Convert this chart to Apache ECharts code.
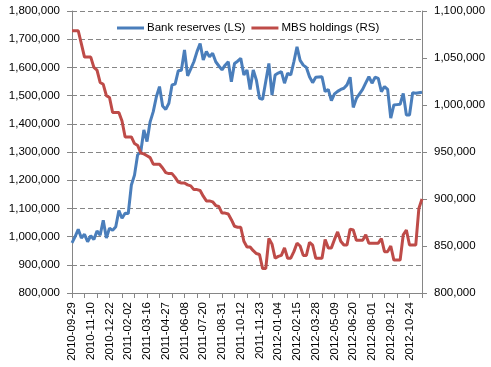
<!DOCTYPE html>
<html><head><meta charset="utf-8">
<script src="https://cdn.jsdelivr.net/npm/echarts@6/dist/echarts.min.js"></script>
<style>html,body{margin:0;padding:0;background:#fff}#c{width:491px;height:367px}</style>
</head><body><div id="c"></div>
<script>
// Weekly dates starting 2010-09-29 (113 weeks)
const startDate = '2010-09-29';
const weekCount = 113;
const categories = [];
(function(){const d=new Date(startDate+'T00:00:00Z');for(let i=0;i<weekCount;i++){const x=new Date(d.getTime()+i*7*86400000);categories.push(x.toISOString().slice(0,10));}})();

const seriesNames = ['Bank reserves (LS)', 'MBS holdings (RS)'];
// values in thousands of dollars (millions units as shown)
const bankReserves = [978,1000,1026,995,1008,982,1003,990,1020,1005,1058,995,1030,1022,1035,1092,1065,1083,1082,1183,1218,1290,1300,1378,1337,1407,1443,1496,1532,1463,1451,1473,1538,1541,1588,1590,1662,1570,1595,1620,1656,1685,1626,1656,1638,1650,1620,1605,1591,1608,1620,1549,1614,1622,1632,1573,1591,1522,1591,1555,1490,1487,1550,1614,1502,1573,1580,1585,1544,1579,1573,1620,1673,1625,1608,1600,1567,1546,1565,1566,1567,1514,1522,1482,1506,1515,1522,1526,1538,1565,1458,1490,1506,1522,1545,1567,1544,1565,1561,1514,1532,1522,1420,1467,1468,1469,1508,1431,1431,1510,1508,1510,1512];
const mbsHoldings = [1079,1079,1079,1065,1051,1051,1051,1040,1037,1024,1022,1010,1008,992,992,992,983,966,966,966,959,957,949,948,946,944,937,937,937,933,928,927,927,923,918,917,917,915,914,910,910,909,903,898,898,897,893,892,885,885,884,878,871,870,870,855,849,849,845,842,841,826,826,858,852,837,839,840,848,837,837,844,853,850,840,840,854,851,837,837,837,857,848,848,857,865,855,851,851,868,867,856,856,856,862,853,853,853,853,858,844,844,850,835,835,835,862,867,851,851,851,890,900];

const leftTicks = {min:800000, max:1800000, step:100000};
const rightTicks = {min:800000, max:1100000, step:50000};

const fmt = v => v.toLocaleString('en-US');
const font = 'Liberation Sans';
const axisGray = '#868686';

const chart = echarts.init(document.getElementById('c'), null, {renderer:'canvas'});
chart.setOption({
  animation:false,
  backgroundColor:'#fff',
  textStyle:{fontFamily:font},
  grid:{left:72, right:69, top:11, bottom:74},
  legend:{
    data:seriesNames, left:112, top:17, itemWidth:27, itemHeight:3, itemGap:6, icon:'rect',
    textStyle:{fontFamily:font, fontSize:11.5, color:'#000', padding:[0,0,0,-2]}
  },
  xAxis:{
    type:'category', data:categories, boundaryGap:false,
    axisLine:{lineStyle:{color:axisGray, width:1}},
    axisTick:{interval:3, length:5, lineStyle:{color:axisGray}},
    axisLabel:{interval:5, rotate:90, margin:9, color:'#000', fontSize:11.5, fontFamily:font},
    splitLine:{show:false}
  },
  yAxis:[{
    type:'value', min:leftTicks.min, max:leftTicks.max, interval:leftTicks.step, position:'left',
    axisLine:{show:true, lineStyle:{color:axisGray}},
    axisTick:{show:true, length:5, lineStyle:{color:axisGray}},
    axisLabel:{formatter:fmt, margin:12, color:'#000', fontSize:11.5, fontFamily:font},
    splitLine:{show:true, lineStyle:{color:axisGray, type:[5,3], width:1}}
  },{
    type:'value', min:rightTicks.min, max:rightTicks.max, interval:rightTicks.step, position:'right',
    axisLine:{show:true, lineStyle:{color:axisGray}},
    axisTick:{show:true, length:5, lineStyle:{color:axisGray}},
    axisLabel:{formatter:fmt, margin:12, color:'#000', fontSize:11.5, fontFamily:font},
    splitLine:{show:false}
  }],
  series:[{
    name:seriesNames[0], type:'line', yAxisIndex:0, data:bankReserves.map(v=>v*1000),
    showSymbol:false, symbol:'none', lineStyle:{width:3, color:'#4A7EBB'}, itemStyle:{color:'#4A7EBB'}
  },{
    name:seriesNames[1], type:'line', yAxisIndex:1, data:mbsHoldings.map(v=>v*1000),
    showSymbol:false, symbol:'none', lineStyle:{width:3, color:'#BE4B48'}, itemStyle:{color:'#BE4B48'}
  }]
});
</script></body></html>
